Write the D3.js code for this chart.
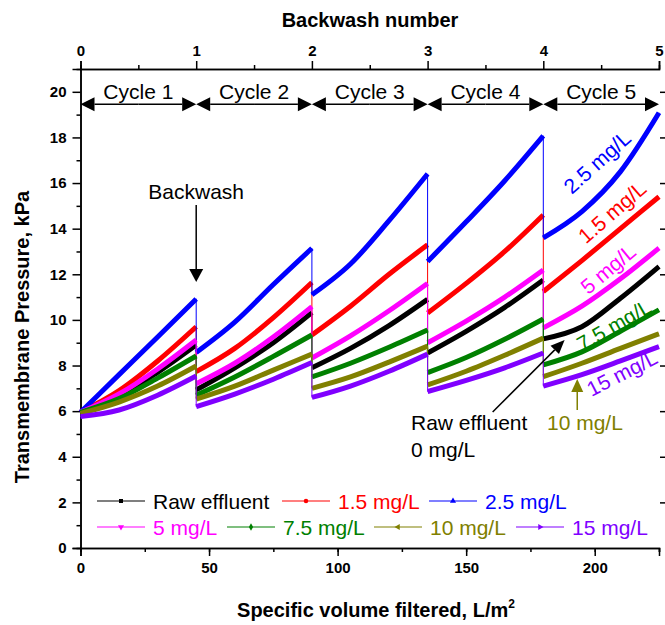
<!DOCTYPE html>
<html lang="en">
<head>
<meta charset="UTF-8">
<title>TMP vs specific volume</title>
<script src="https://cdn.jsdelivr.net/npm/d3@7"></script>
<style>
    body { margin: 0; background: #FFFFFF; }
    svg text { font-family: "Liberation Sans", Arial, sans-serif; }
    .axis text { font-weight: bold; font-size: 15px; fill: #000000; }
    .axis path, .axis line { stroke: #000000; stroke-width: 1.5px; }
    .title { font-weight: bold; font-size: 20px; }
    .note { font-size: 21px; }
</style>
</head>
<body>
<div id="canvas"></div>
<script>

    // data: each series is a list of cycles, each cycle read at 0, 15, 30 and 45 L/m2
    const cycleLength = 45;
    const cycleOffsets = [0, 15, 30, 45];
    const cycleNames = ['Cycle 1', 'Cycle 2', 'Cycle 3', 'Cycle 4', 'Cycle 5'];
    const backwashTicks = [0, 1, 2, 3, 4, 5];
    const volumeTicks = [0, 50, 100, 150, 200];
    const pressureTicks = [0, 2, 4, 6, 8, 10, 12, 14, 16, 18, 20];

    const seriesNames = ['Raw effluent', '1.5 mg/L', '2.5 mg/L', '5 mg/L', '7.5 mg/L', '10 mg/L', '15 mg/L'];
    const seriesColors = ['#000000', '#FF0000', '#0000FF', '#FF00FF', '#008000', '#808000', '#8000FF'];

    const rawEffluent = [[5.95, 6.65, 7.7, 8.9], [6.93, 7.9, 9.0, 10.32], [7.9, 8.75, 9.75, 10.9], [8.55, 9.5, 10.55, 11.75], [9.17, 9.7, 10.95, 12.34]];
    const dose15 = [[5.95, 6.9, 8.2, 9.7], [7.73, 8.75, 10.1, 11.64], [9.34, 10.6, 12.0, 13.29], [10.3, 11.6, 13.0, 14.6], [11.24, 12.6, 14.0, 15.4]];
    const dose25 = [[5.95, 7.6, 9.25, 10.92], [8.57, 9.9, 11.55, 13.14], [11.1, 12.45, 14.35, 16.4], [12.56, 14.3, 16.1, 18.07], [13.6, 14.75, 16.5, 19.08]];
    const dose5 = [[5.95, 6.75, 7.85, 9.12], [7.2, 8.1, 9.25, 10.58], [8.33, 9.3, 10.4, 11.6], [9.0, 9.95, 11.0, 12.19], [9.65, 10.6, 11.8, 13.15]];
    const dose75 = [[5.95, 6.55, 7.45, 8.42], [6.7, 7.5, 8.4, 9.34], [7.5, 8.1, 8.8, 9.56], [7.69, 8.35, 9.15, 10.04], [8.03, 8.6, 9.5, 10.44]];
    const dose10 = [[5.9, 6.4, 7.1, 7.98], [6.53, 7.1, 7.8, 8.5], [7.0, 7.5, 8.15, 8.85], [7.15, 7.75, 8.45, 9.2], [7.51, 8.1, 8.75, 9.39]];
    const dose150 = [[5.76, 6.05, 6.7, 7.54], [6.2, 6.75, 7.4, 8.13], [6.6, 7.1, 7.75, 8.5], [6.86, 7.35, 7.9, 8.55], [7.1, 7.6, 8.2, 8.83]];

    const seriesValues = [rawEffluent, dose15, dose25, dose5, dose75, dose10, dose150];

</script>
<script>

    const width = 665;
    const height = 625;
    const margin = { top: 69, right: 6, bottom: 77, left: 80.5 };

    const svg = d3.select('#canvas')
        .append('svg')
        .attr('width', width)
        .attr('height', height);

    svg.append('rect')
        .attr('width', width)
        .attr('height', height)
        .attr('fill', '#FFFFFF');

    const x = d3.scaleLinear().domain([0, 225]).range([margin.left, width - margin.right]);
    const xTop = d3.scaleLinear().domain([0, 5]).range([margin.left, width - margin.right]);
    const y = d3.scaleLinear().domain([0, 21]).range([height - margin.bottom, margin.top]);

    const x0 = x.range()[0], x1 = x.range()[1];
    const y0 = y.range()[0], y1 = y.range()[1];

    // axes
    const addAxis = (axis, transform) => svg.append('g')
        .attr('class', 'axis')
        .attr('transform', transform)
        .call(axis);

    addAxis(d3.axisBottom(x).tickValues(d3.range(25, 226, 25)).tickSize(4).tickFormat(''), `translate(0,${y0})`);
    addAxis(d3.axisBottom(x).tickValues(volumeTicks).tickSize(8).tickPadding(6), `translate(0,${y0})`);
    addAxis(d3.axisTop(xTop).tickValues(d3.range(0.5, 5, 1)).tickSize(4).tickFormat(''), `translate(0,${y1})`);
    addAxis(d3.axisTop(xTop).tickValues(backwashTicks).tickSize(8).tickPadding(5).tickFormat(d3.format('d')), `translate(0,${y1})`);
    addAxis(d3.axisLeft(y).tickValues(d3.range(1, 21, 2)).tickSize(4).tickFormat(''), `translate(${x0},0)`);
    addAxis(d3.axisLeft(y).tickValues(pressureTicks).tickSize(8).tickPadding(6), `translate(${x0},0)`);

    // right side: ticks only, the frame line sits past the picture edge
    const rightAxis = addAxis(d3.axisRight(y).tickValues(pressureTicks.slice(1)).tickSize(5).tickFormat(''), `translate(${x1 + 1},0)`);
    rightAxis.select('.domain').remove();

    // axis titles
    svg.append('text')
        .attr('class', 'title')
        .attr('x', 370).attr('y', 27)
        .attr('text-anchor', 'middle')
        .text('Backwash number');

    const xTitle = svg.append('text')
        .attr('class', 'title')
        .attr('x', 376).attr('y', 617)
        .attr('text-anchor', 'middle');
    xTitle.append('tspan').text('Specific volume filtered, L/m');
    xTitle.append('tspan').attr('font-size', '12px').attr('dy', -9).text('2');

    svg.append('text')
        .attr('class', 'title')
        .attr('transform', 'translate(29,337) rotate(-90)')
        .attr('text-anchor', 'middle')
        .text('Transmembrane Pressure, kPa');

    // series
    const line = d3.line()
        .x(d => x(d[0]))
        .y(d => y(d[1]));

    const series = seriesValues.map((cycles, i) => ({
        name: seriesNames[i],
        color: seriesColors[i],
        cycles: cycles.map((vals, c) => vals.map((v, k) => [c * cycleLength + cycleOffsets[k], v]))
    }));

    const plot = svg.append('g');

    series.forEach(s => {
        // thin connecting line through the backwash drops
        plot.append('path')
            .attr('d', line.curve(d3.curveLinear)(s.cycles.flat()))
            .attr('fill', 'none')
            .attr('stroke', s.color)
            .attr('stroke-width', 1);

        plot.selectAll(null)
            .data(s.cycles)
            .enter()
            .append('path')
            .attr('d', d => line.curve(d3.curveMonotoneX)(d))
            .attr('fill', 'none')
            .attr('stroke', s.color)
            .attr('stroke-width', 5)
            .attr('stroke-linejoin', 'round');
    });

    // arrows
    const arrow = (xa, ya, xb, yb, color, len, half) => {
        const ang = Math.atan2(yb - ya, xb - xa);
        const bx = xb - len * Math.cos(ang), by = yb - len * Math.sin(ang);
        svg.append('line')
            .attr('x1', xa).attr('y1', ya).attr('x2', bx).attr('y2', by)
            .attr('stroke', color).attr('stroke-width', 1.5);
        const px = -Math.sin(ang) * half, py = Math.cos(ang) * half;
        svg.append('path')
            .attr('d', `M${xb},${yb}L${bx + px},${by + py}L${bx - px},${by - py}Z`)
            .attr('fill', color);
    };

    // cycle spans
    const spanY = y(19.45);
    cycleNames.forEach((name, i) => {
        const a = xTop(i), b = xTop(i + 1);
        arrow((a + b) / 2, spanY, a, spanY, '#000000', 14, 7);
        arrow((a + b) / 2, spanY, b, spanY, '#000000', 14, 7);
        svg.append('text')
            .attr('class', 'note')
            .attr('x', (a + b) / 2).attr('y', spanY - 5)
            .attr('text-anchor', 'middle')
            .text(name);
    });

    // backwash note
    svg.append('text')
        .attr('class', 'note')
        .attr('x', x(45)).attr('y', 199)
        .attr('text-anchor', 'middle')
        .text('Backwash');
    arrow(x(45), y(15.04), x(45), y(11.66), '#000000', 13, 7);

    // raw effluent note
    svg.append('text').attr('class', 'note').attr('x', 411).attr('y', 430).text('Raw effluent');
    svg.append('text').attr('class', 'note').attr('x', 411).attr('y', 457).text('0 mg/L');
    arrow(x(160.3), y(5.96), x(188.3), y(9.12), '#000000', 14, 6);

    // 10 mg/L note
    svg.append('text').attr('class', 'note').attr('x', 547).attr('y', 430)
        .attr('fill', seriesColors[5]).text('10 mg/L');
    arrow(x(193.2), y(6.05), x(193.2), y(7.41), seriesColors[5], 13, 6);

    // rotated labels on the last cycle
    const tilted = [
        { i: 2, cx: 597, cy: 162, a: -42 },
        { i: 1, cx: 612, cy: 212, a: -41 },
        { i: 3, cx: 608, cy: 269, a: -40 },
        { i: 4, cx: 614, cy: 325, a: -30 },
        { i: 6, cx: 622, cy: 373, a: -27 }
    ];
    tilted.forEach(t => {
        svg.append('text')
            .attr('class', 'note')
            .attr('transform', `translate(${t.cx},${t.cy}) rotate(${t.a})`)
            .attr('text-anchor', 'middle')
            .attr('dominant-baseline', 'central')
            .attr('fill', seriesColors[t.i])
            .text(seriesNames[t.i]);
    });

    // legend
    const symbols = [
        d3.symbol().type(d3.symbolSquare).size(16),
        d3.symbol().type(d3.symbolCircle).size(16),
        d3.symbol().type(d3.symbolTriangle).size(16),
        d3.symbol().type(d3.symbolTriangle).size(16),
        d3.symbol().type(d3.symbolDiamond).size(16),
        d3.symbol().type(d3.symbolTriangle).size(16),
        d3.symbol().type(d3.symbolTriangle).size(16)
    ];
    const symbolTurn = [0, 0, 0, 180, 0, -90, 90];
    const legendPos = [[97, 501], [282, 501], [429, 501], [97, 527], [227, 527], [374, 527], [516, 527]];

    const legend = svg.append('g');
    series.forEach((s, i) => {
        const [lx, ly] = legendPos[i];
        const g = legend.append('g').attr('transform', `translate(${lx},${ly})`);
        g.append('line')
            .attr('x1', 0).attr('x2', 48)
            .attr('stroke', s.color).attr('stroke-width', 1.2);
        g.append('path')
            .attr('d', symbols[i]())
            .attr('transform', `translate(24,0) rotate(${symbolTurn[i]})`)
            .attr('fill', s.color);
        g.append('text')
            .attr('class', 'note')
            .attr('x', 56).attr('y', 0)
            .attr('dominant-baseline', 'central')
            .attr('fill', s.color)
            .text(s.name);
    });

</script>
</body>
</html>
